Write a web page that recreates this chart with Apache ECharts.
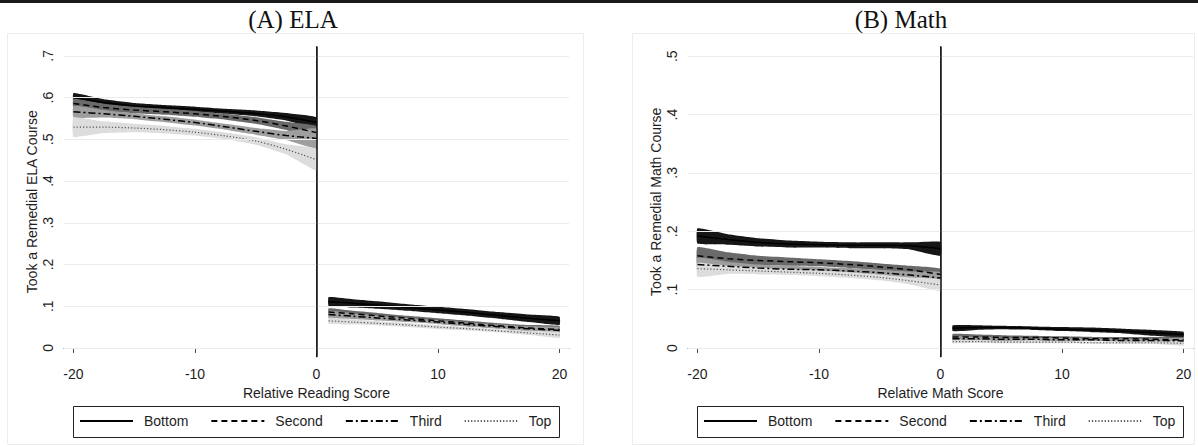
<!DOCTYPE html>
<html>
<head>
<meta charset="utf-8">
<script src="https://cdn.jsdelivr.net/npm/echarts@6/dist/echarts.min.js"></script>
<style>
  html, body { margin: 0; padding: 0; background: #fff; }
  #chart { width: 1198px; height: 447px; }
</style>
</head>
<body>
<div id="chart"></div>
<script>
// Running-variable positions of the local fits, below and above the cutoff
const preX = [-20, -17.5, -15, -12.5, -10, -7.5, -5, -2.5, 0];
const postX = [1, 3, 5, 7.5, 10, 12.5, 15, 17.5, 20];

const groups = ['Bottom', 'Second', 'Third', 'Top'];

// ELA: fitted share and 95% band, rows = Bottom, Second, Third, Top
const elaPreFit = [
  [0.600, 0.588, 0.580, 0.576, 0.572, 0.567, 0.562, 0.554, 0.540],
  [0.586, 0.576, 0.570, 0.566, 0.561, 0.554, 0.545, 0.532, 0.516],
  [0.566, 0.561, 0.555, 0.548, 0.540, 0.530, 0.519, 0.509, 0.502],
  [0.529, 0.529, 0.527, 0.523, 0.517, 0.508, 0.496, 0.476, 0.451]
];
const elaPreLo = [
  [0.589, 0.580, 0.573, 0.570, 0.566, 0.561, 0.555, 0.545, 0.527],
  [0.574, 0.567, 0.562, 0.559, 0.554, 0.547, 0.537, 0.522, 0.500],
  [0.552, 0.552, 0.548, 0.541, 0.533, 0.523, 0.511, 0.498, 0.478],
  [0.506, 0.515, 0.517, 0.514, 0.509, 0.500, 0.487, 0.464, 0.425]
];
const elaPreHi = [
  [0.611, 0.596, 0.587, 0.582, 0.578, 0.573, 0.569, 0.563, 0.553],
  [0.598, 0.585, 0.578, 0.573, 0.568, 0.561, 0.553, 0.542, 0.532],
  [0.580, 0.570, 0.562, 0.555, 0.547, 0.537, 0.527, 0.520, 0.526],
  [0.552, 0.543, 0.537, 0.532, 0.525, 0.516, 0.505, 0.488, 0.477]
];
const elaPostFit = [
  [0.111, 0.107, 0.103, 0.097, 0.091, 0.085, 0.078, 0.071, 0.065],
  [0.086, 0.082, 0.077, 0.071, 0.065, 0.059, 0.053, 0.048, 0.044],
  [0.080, 0.076, 0.072, 0.067, 0.062, 0.056, 0.051, 0.046, 0.042],
  [0.065, 0.062, 0.059, 0.055, 0.050, 0.046, 0.041, 0.036, 0.031]
];
const elaPostLo = [
  [0.100, 0.097, 0.094, 0.089, 0.083, 0.077, 0.070, 0.062, 0.055],
  [0.077, 0.075, 0.070, 0.065, 0.059, 0.053, 0.047, 0.041, 0.035],
  [0.071, 0.069, 0.066, 0.062, 0.057, 0.051, 0.046, 0.040, 0.034],
  [0.058, 0.056, 0.054, 0.050, 0.045, 0.042, 0.037, 0.031, 0.024]
];
const elaPostHi = [
  [0.122, 0.117, 0.112, 0.105, 0.099, 0.093, 0.086, 0.080, 0.075],
  [0.095, 0.089, 0.084, 0.077, 0.071, 0.065, 0.059, 0.055, 0.053],
  [0.089, 0.083, 0.078, 0.072, 0.067, 0.061, 0.056, 0.052, 0.050],
  [0.072, 0.068, 0.064, 0.060, 0.055, 0.050, 0.045, 0.041, 0.038]
];

// Math: fitted share and 95% band, rows = Bottom, Second, Third, Top
const mathPreFit = [
  [0.192, 0.186, 0.181, 0.178, 0.177, 0.176, 0.176, 0.175, 0.170],
  [0.158, 0.153, 0.150, 0.148, 0.146, 0.143, 0.139, 0.134, 0.126],
  [0.143, 0.140, 0.137, 0.135, 0.134, 0.132, 0.129, 0.125, 0.120],
  [0.136, 0.134, 0.132, 0.130, 0.128, 0.125, 0.121, 0.115, 0.108]
];
const mathPreLo = [
  [0.179, 0.177, 0.174, 0.172, 0.172, 0.171, 0.171, 0.169, 0.158],
  [0.143, 0.142, 0.142, 0.141, 0.140, 0.137, 0.133, 0.127, 0.116],
  [0.131, 0.132, 0.131, 0.129, 0.129, 0.127, 0.124, 0.119, 0.110],
  [0.122, 0.127, 0.126, 0.125, 0.123, 0.120, 0.116, 0.109, 0.098]
];
const mathPreHi = [
  [0.205, 0.195, 0.188, 0.184, 0.182, 0.181, 0.181, 0.181, 0.182],
  [0.173, 0.164, 0.158, 0.155, 0.152, 0.149, 0.145, 0.141, 0.136],
  [0.155, 0.148, 0.143, 0.141, 0.139, 0.137, 0.134, 0.131, 0.130],
  [0.146, 0.141, 0.138, 0.135, 0.133, 0.130, 0.126, 0.121, 0.118]
];
const mathPostFit = [
  [0.034, 0.035, 0.035, 0.034, 0.032, 0.031, 0.029, 0.026, 0.023],
  [0.019, 0.019, 0.018, 0.018, 0.017, 0.016, 0.016, 0.015, 0.014],
  [0.016, 0.016, 0.015, 0.015, 0.014, 0.014, 0.013, 0.013, 0.012],
  [0.011, 0.011, 0.010, 0.010, 0.010, 0.009, 0.009, 0.009, 0.008]
];
const mathPostLo = [
  [0.029, 0.031, 0.032, 0.031, 0.029, 0.027, 0.025, 0.021, 0.018],
  [0.014, 0.015, 0.014, 0.015, 0.014, 0.013, 0.013, 0.011, 0.009],
  [0.012, 0.013, 0.012, 0.013, 0.011, 0.012, 0.010, 0.010, 0.007],
  [0.008, 0.009, 0.008, 0.008, 0.008, 0.007, 0.007, 0.007, 0.004]
];
const mathPostHi = [
  [0.039, 0.039, 0.038, 0.037, 0.036, 0.035, 0.033, 0.031, 0.028],
  [0.024, 0.023, 0.022, 0.021, 0.020, 0.019, 0.019, 0.019, 0.019],
  [0.020, 0.019, 0.018, 0.017, 0.017, 0.016, 0.016, 0.016, 0.017],
  [0.014, 0.013, 0.012, 0.012, 0.012, 0.011, 0.011, 0.011, 0.012]
];

// Axis ticks and their labels
const xTicks = [-20, -10, 0, 10, 20];
const xTickLabels = ['-20', '-10', '0', '10', '20'];
const elaYTicks = [0, 0.1, 0.2, 0.3, 0.4, 0.5, 0.6, 0.7];
const elaYTickLabels = ['0', '.1', '.2', '.3', '.4', '.5', '.6', '.7'];
const mathYTicks = [0, 0.1, 0.2, 0.3, 0.4, 0.5];
const mathYTickLabels = ['0', '.1', '.2', '.3', '.4', '.5'];

// ---- styling ----
const SANS = '"Liberation Sans", Arial, sans-serif';
const SERIF = '"Liberation Serif", "Times New Roman", serif';
const bandColors = ['#161616', '#6a6a6a', '#9e9e9e', '#dddddd'];
const lineStyles = [
  { color: '#000', width: 1.5, type: 'solid' },
  { color: '#000', width: 1.5, type: [6, 4] },
  { color: '#000', width: 1.5, type: [7, 3, 2, 3] },
  { color: '#555', width: 1.2, type: [1.2, 2] }
];

const panels = [
  {
    pre: [elaPreFit, elaPreLo, elaPreHi], post: [elaPostFit, elaPostLo, elaPostHi],
    yTicks: elaYTicks, yLabels: elaYTickLabels, yMin: -0.0216, yMax: 0.7223,
    yName: 'Took a Remedial ELA Course', xName: 'Relative Reading Score',
    gridLeft: 64
  },
  {
    pre: [mathPreFit, mathPreLo, mathPreHi], post: [mathPostFit, mathPostLo, mathPostHi],
    yTicks: mathYTicks, yLabels: mathYTickLabels, yMin: -0.0154, yMax: 0.5166,
    yName: 'Took a Remedial Math Course', xName: 'Relative Math Score',
    gridLeft: 688
  }
];

const grids = [], xAxes = [], yAxes = [], series = [];

function bandSeries(idx, xs, lo, hi, color, name) {
  return {
    type: 'custom', name: name, xAxisIndex: idx, yAxisIndex: idx,
    coordinateSystem: 'cartesian2d', silent: true, z: 2,
    data: xs.map((x, i) => [x, lo[i], hi[i]]),
    encode: { x: 0, y: [1, 2] },
    renderItem: function (params, api) {
      if (params.dataIndex !== 0) return null;
      const upper = xs.map((x, i) => api.coord([x, hi[i]]));
      const lower = xs.map((x, i) => api.coord([x, lo[i]])).reverse();
      return {
        type: 'polygon',
        shape: { points: upper.concat(lower), smooth: 0.12 },
        style: { fill: color, stroke: null }
      };
    }
  };
}

function lineSeries(idx, xs, fit, g) {
  return {
    type: 'line', name: groups[g], xAxisIndex: idx, yAxisIndex: idx,
    data: xs.map((x, i) => [x, fit[i]]),
    smooth: 0.3, symbol: 'none', silent: true, z: 4,
    lineStyle: lineStyles[g], itemStyle: { color: lineStyles[g].color }
  };
}

panels.forEach(function (p, idx) {
  grids.push({ left: p.gridLeft, top: 46.5, width: 505, height: 310.5, containLabel: false });
  xAxes.push({
    type: 'value', gridIndex: idx, min: -20.78, max: 20.78,
    axisLine: { show: true, lineStyle: { color: '#4a4a4a', width: 1 } },
    axisTick: { show: true, length: 5, customValues: xTicks, lineStyle: { color: '#4a4a4a' } },
    axisLabel: {
      customValues: xTicks, margin: 10, fontSize: 14, fontFamily: SANS, color: '#1e1e1e',
      formatter: v => xTickLabels[xTicks.indexOf(Math.round(v))]
    },
    splitLine: { show: false },
    name: p.xName, nameLocation: 'middle', nameGap: 25,
    nameTextStyle: { fontSize: 14, fontFamily: SANS, color: '#1e1e1e' }
  });
  yAxes.push({
    type: 'value', gridIndex: idx, min: p.yMin, max: p.yMax,
    axisLine: { show: true, lineStyle: { color: '#4a4a4a', width: 1 } },
    axisTick: { show: true, length: 5, customValues: p.yTicks, lineStyle: { color: '#4a4a4a' } },
    axisLabel: {
      customValues: p.yTicks, rotate: 90, margin: 9, fontSize: 14, fontFamily: SANS, color: '#1e1e1e',
      formatter: v => p.yLabels[Math.round(v * 10)]
    },
    splitLine: { show: false },
    name: p.yName, nameLocation: 'middle', nameGap: 25, nameRotate: 90,
    nameTextStyle: { fontSize: 14, fontFamily: SANS, color: '#1e1e1e' }
  });

  // horizontal grid lines at the y ticks
  series.push({
    type: 'line', xAxisIndex: idx, yAxisIndex: idx, data: [], z: 0, silent: true,
    markLine: {
      silent: true, symbol: ['none', 'none'], label: { show: false }, animation: false,
      lineStyle: { color: '#ebebeb', width: 1, type: 'solid' },
      data: p.yTicks.map(v => ({ yAxis: v }))
    }
  });

  for (let g = 0; g < groups.length; g++) {
    series.push(bandSeries(idx, preX, p.pre[1][g], p.pre[2][g], bandColors[g], groups[g] + ' band'));
    series.push(bandSeries(idx, postX, p.post[1][g], p.post[2][g], bandColors[g], groups[g] + ' band'));
  }
  for (let g = 0; g < groups.length; g++) {
    series.push(lineSeries(idx, preX, p.pre[0][g], g));
    series.push(lineSeries(idx, postX, p.post[0][g], g));
  }

  // cutoff at zero
  series.push({
    type: 'line', xAxisIndex: idx, yAxisIndex: idx, data: [], z: 5, silent: true,
    markLine: {
      silent: true, symbol: ['none', 'none'], label: { show: false }, animation: false,
      lineStyle: { color: '#111', width: 1.5, type: 'solid' },
      data: [{ xAxis: 0 }]
    }
  });
});

const legendBase = {
  data: groups, top: 414, itemWidth: 53, itemHeight: 14, itemGap: 22, padding: 0,
  selectedMode: false,
  itemStyle: { opacity: 0, color: 'transparent', borderColor: 'transparent', borderWidth: 0 },
  textStyle: { fontSize: 14, fontFamily: SANS, color: '#1e1e1e', padding: [0, 0, 0, 6] }
};

const chart = echarts.init(document.getElementById('chart'), null, { renderer: 'svg' });
chart.setOption({
  animation: false,
  backgroundColor: '#fff',
  grid: grids,
  xAxis: xAxes,
  yAxis: yAxes,
  legend: [
    Object.assign({}, legendBase, { left: 79 }),
    Object.assign({}, legendBase, { left: 703 })
  ],
  graphic: [
    { type: 'rect', shape: { x: 0, y: 0, width: 1198, height: 3 }, style: { fill: '#1a1a1a' }, silent: true },
    { type: 'rect', shape: { x: 7.5, y: 33.5, width: 576, height: 411 }, style: { fill: 'none', stroke: '#ececec', lineWidth: 1 }, silent: true, z: -1 },
    { type: 'rect', shape: { x: 632.5, y: 33.5, width: 562, height: 411 }, style: { fill: 'none', stroke: '#ececec', lineWidth: 1 }, silent: true, z: -1 },
    { type: 'rect', shape: { x: 73.5, y: 406.5, width: 486, height: 31 }, style: { fill: 'none', stroke: '#222', lineWidth: 1 }, silent: true },
    { type: 'rect', shape: { x: 697.5, y: 406.5, width: 486, height: 31 }, style: { fill: 'none', stroke: '#222', lineWidth: 1 }, silent: true },
    { type: 'text', x: 293, y: 19, style: { text: '(A) ELA', font: '25px ' + SERIF, fill: '#111', align: 'center', verticalAlign: 'middle' }, silent: true },
    { type: 'text', x: 901, y: 19, style: { text: '(B) Math', font: '25px ' + SERIF, fill: '#111', align: 'center', verticalAlign: 'middle' }, silent: true }
  ],
  series: series
});
</script>
</body>
</html>
